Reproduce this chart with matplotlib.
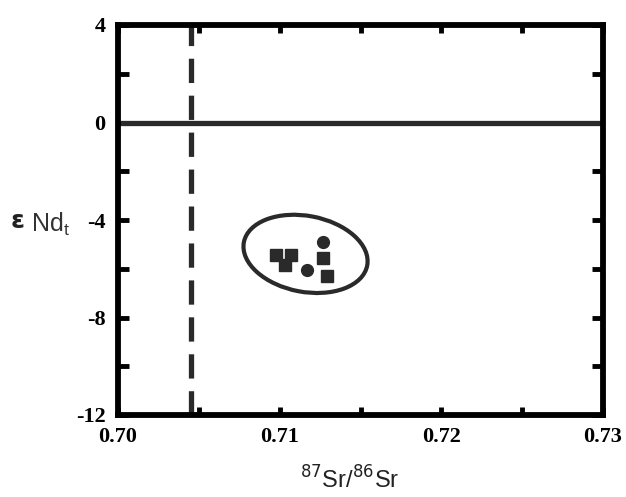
import matplotlib
matplotlib.use("Agg")
import matplotlib.pyplot as plt
import matplotlib.transforms as mtransforms
from matplotlib.patches import Ellipse

# ---- data ----
square_x = [0.7098, 0.7107, 0.7103, 0.7127, 0.7129]
square_y = [-5.44, -5.44, -5.85, -5.56, -6.31]
circle_x = [0.7127, 0.7117]
circle_y = [-4.89, -6.04]
ref_sr = 0.7045          # vertical dashed line
ref_nd = 0.0             # horizontal line
ellipse_center = (0.7116, -5.39)
ellipse_w_in, ellipse_h_in, ellipse_angle = 1.255, 0.76, -10.7
xticks_major = [0.70, 0.71, 0.72, 0.73]
xticks_minor = [0.705, 0.715, 0.725]
xtick_labels = ["0.70", "0.71", "0.72", "0.73"]
yticks_major = [4, 0, -4, -8, -12]
yticks_minor = [2, -2, -6, -10]
ytick_labels = ["4", "0", "-4", "-8", "-12"]

fig = plt.figure(figsize=(6.26, 4.97), dpi=100)
ax = fig.add_axes([118/626, 1-415/497, (603-118)/626, (415-25)/497])
ax.set_xlim(0.70, 0.73)
ax.set_ylim(-12, 4)

dark = "#2a2a2a"
ax.axhline(ref_nd, color=dark, lw=3.8, zorder=2)
ax.axvline(ref_sr, color=dark, lw=3.8, dashes=(4.6, 2.4), zorder=2)

ax.plot(square_x, square_y, ls="none", marker="s", ms=8, color=dark, zorder=3)
ax.plot(circle_x, circle_y, ls="none", marker="o", ms=8.5, color=dark, zorder=3)

trans = fig.dpi_scale_trans + mtransforms.ScaledTranslation(
    ellipse_center[0], ellipse_center[1], ax.transData)
ell = Ellipse((0, 0), ellipse_w_in, ellipse_h_in, angle=ellipse_angle,
              transform=trans, fill=False, edgecolor=dark, lw=3.0, zorder=3)
ax.add_patch(ell)

for s in ax.spines.values():
    s.set_linewidth(4.2)
    s.set_color("black")

ax.set_xticks(xticks_major)
ax.set_xticks(xticks_minor, minor=True)
ax.set_xticklabels(xtick_labels)
ax.set_yticks(yticks_major)
ax.set_yticks(yticks_minor, minor=True)
ax.set_yticklabels(ytick_labels)
ax.tick_params(which="both", direction="in", top=True, right=True,
               width=3.5, color="black")
ax.tick_params(axis="y", which="both", length=8)
ax.tick_params(axis="x", which="both", length=6)
ax.tick_params(axis="x", pad=9)
ax.tick_params(axis="y", pad=9)
for lab in ax.get_xticklabels() + ax.get_yticklabels():
    lab.set_fontfamily("Liberation Serif")
    lab.set_fontweight("bold")
    lab.set_fontsize(16)

fig.text(350/626, 1-480/497, r"$^{87}$Sr/$^{86}$Sr", ha="center", va="center",
         fontsize=17, family="Liberation Sans", color="#222222")
fig.text(18/626, 1-221/497, "ε", ha="center", va="center", fontsize=18,
         fontweight="bold", family="DejaVu Sans", color="#222222")
fig.text(31/626, 1-224/497, r"Nd$_\mathregular{t}$", ha="left", va="center",
         fontsize=18, family="Liberation Sans", color="#333333")

fig.savefig("out.png", dpi=100)
